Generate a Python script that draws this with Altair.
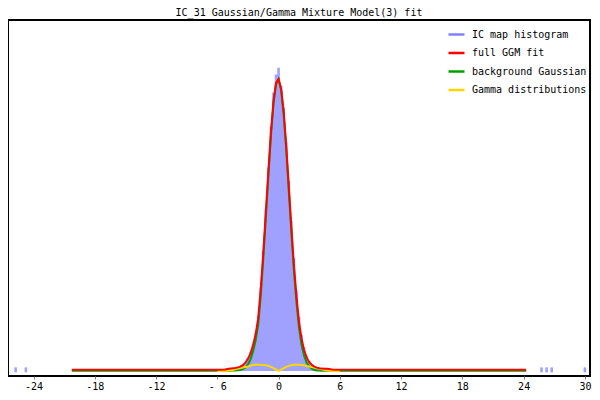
import altair as alt
import pandas as pd

# ---- data (heights in arbitrary density units) ----
hist_x = [-6.0, -5.75, -5.5, -5.25, -5.0, -4.75, -4.5, -4.25, -4.0, -3.75, -3.5, -3.25,
          -3.0, -2.75, -2.5, -2.25, -2.0, -1.75, -1.5, -1.25, -1.0, -0.75, -0.5, -0.25,
          0.0, 0.25, 0.5, 0.75, 1.0, 1.25, 1.5, 1.75, 2.0, 2.25, 2.5, 2.75, 3.0, 3.25,
          3.5, 3.75, 4.0, 4.25, 4.5, 4.75, 5.0, 5.25, 5.5, 5.75, 6.0]
hist_y = [0.6, 0.8, 0.9, 1.1, 1.3, 1.8, 2.2, 2.9, 3.6, 4.8, 6.6, 9.5,
          14, 20, 28, 40, 58, 88, 126, 171, 214, 257, 293, 312,
          319, 300, 277, 241, 200, 158, 119, 85, 57, 38, 25, 16, 10.5, 7.2,
          5.0, 3.7, 2.9, 2.4, 2.0, 1.6, 1.3, 1.1, 0.9, 0.8, 0.6]

outlier_x = [-26.75, -25.75, -24.75, 25.75, 26.25, 26.75, 30.0]
outlier_y = [1.2, 1.2, 1.2, 1.2, 1.2, 1.2, 1.2]

curve_x = [-20.25, -12.0, -6.0, -5.25, -4.75, -4.5, -4.25, -4.0, -3.75, -3.5, -3.25,
           -3.0, -2.75, -2.5, -2.25, -2.0, -1.75, -1.5, -1.25, -1.0, -0.75, -0.5, -0.25,
           0.0, 0.25, 0.5, 0.75, 1.0, 1.25, 1.5, 1.75, 2.0, 2.25, 2.5, 2.75, 3.0, 3.25,
           3.5, 3.75, 4.0, 4.25, 4.5, 4.75, 5.25, 6.0, 12.0, 24.25]
full_fit = [1.2, 1.2, 1.3, 1.6, 2.6, 2.8, 3.2, 3.8, 4.6, 6.2, 8.8,
            12.8, 18.5, 27, 38.5, 55, 86, 124, 167, 210, 251, 284, 303,
            307, 297, 273, 237, 195, 152, 112, 79, 52, 34, 22, 14, 9.5, 6.5,
            4.6, 3.5, 2.8, 2.5, 2.4, 2.3, 1.6, 1.3, 1.2, 1.2]
bg_gauss = [0.3, 0.3, 0.3, 0.3, 0.3, 0.4, 0.5, 0.7, 1.1, 2.0, 3.6,
            7.0, 12.0, 20.5, 32, 48, 79, 118, 161, 205, 247, 281, 301.5,
            307, 295.5, 270, 232.5, 189.5, 146, 105.5, 72.5, 45.5, 27.5, 16, 8.7, 4.8, 2.4,
            1.1, 0.6, 0.4, 0.3, 0.3, 0.3, 0.3, 0.3, 0.3, 0.3]

gamma_x = [-6.0, -5.25, -4.75, -4.5, -4.25, -4.0, -3.75, -3.5, -3.25, -3.0, -2.75,
           -2.5, -2.25, -2.0, -1.75, -1.5, -1.25, -1.0, -0.75, -0.5, -0.25, 0.0,
           0.25, 0.5, 0.75, 1.0, 1.25, 1.5, 1.75, 2.0, 2.25, 2.5, 2.75, 3.0, 3.25,
           3.5, 3.75, 4.0, 4.25, 4.5, 4.75, 5.25, 6.0]
gamma_y = [0.0, 0.1, 0.5, 1.0, 1.8, 2.6, 3.2, 3.6, 4.2, 4.8, 5.6,
           6.3, 6.6, 6.7, 6.6, 6.4, 6.0, 5.4, 4.4, 3.0, 1.5, 0.2,
           1.5, 3.0, 4.4, 5.4, 6.1, 6.5, 6.7, 6.7, 6.4, 6.0, 5.3, 4.7, 4.1,
           3.6, 3.0, 2.4, 1.7, 1.0, 0.5, 0.1, 0.0]

series_names = ["IC map histogram", "full GGM fit", "background Gaussian", "Gamma distributions"]
series_colors = ["#8080ff", "#ff0000", "#00a000", "#ffd700"]
tick_values = [-24, -18, -12, -6, 0, 6, 12, 18, 24, 30]

FONT = "DejaVu Sans Mono"
bin_w = 0.25

x_scale = alt.Scale(domain=[-26.5, 30.5], nice=False, zero=False)
y_scale = alt.Scale(domain=[0, 364], nice=False)
x_axis = alt.Axis(values=tick_values, grid=False, domain=False, tickSize=3,
                  tickColor="#808080", labelFont=FONT, labelFontSize=10,
                  labelColor="black", labelPadding=2, title=None,
                  labelExpr="datum.value == -6 ? '- 6' : toString(datum.value)")

hist_df = pd.DataFrame({"x": hist_x, "y": hist_y})
out_df = pd.DataFrame({"x0": [v - bin_w / 2 for v in outlier_x],
                       "x1": [v + bin_w / 2 for v in outlier_x],
                       "y": outlier_y})

hist = alt.Chart(hist_df).mark_area(interpolate="step", color="#a0a0ff", opacity=1).encode(
    x=alt.X("x:Q", scale=x_scale, axis=x_axis),
    y=alt.Y("y:Q", scale=y_scale, axis=None),
)
outl = alt.Chart(out_df).mark_bar(color="#a0a0ff").encode(
    x=alt.X("x0:Q", scale=x_scale), x2="x1:Q",
    y=alt.Y("y:Q", scale=y_scale),
)

color_scale = alt.Scale(domain=series_names, range=series_colors)
legend = alt.Legend(title=None, orient="none", legendX=439, legendY=5,
                    symbolType="stroke", symbolSize=256, symbolStrokeWidth=2.5,
                    symbolOpacity=1, labelFont=FONT, labelFontSize=10,
                    labelColor="black", rowPadding=3.5, labelOffset=6, padding=0,
                    labelLimit=200)


def curve(xs, ys, name):
    df = pd.DataFrame({"x": xs, "y": ys, "series": [name] * len(xs)})
    return alt.Chart(df).mark_line(interpolate="linear", strokeWidth=2).encode(
        x=alt.X("x:Q", scale=x_scale),
        y=alt.Y("y:Q", scale=y_scale),
        color=alt.Color("series:N", scale=color_scale, legend=legend),
    )


green = curve(curve_x, bg_gauss, "background Gaussian")
yellow = curve(gamma_x, gamma_y, "Gamma distributions")
red = curve(curve_x, full_fit, "full GGM fit")

chart = alt.layer(hist, outl, green, yellow, red).properties(
    width=582, height=356,
    autosize=alt.AutoSizeParams(type="none"),
    padding={"left": 0, "top": 12, "right": 2, "bottom": 15},
    title=alt.TitleParams("IC_31 Gaussian/Gamma Mixture Model(3) fit", font=FONT,
                          fontSize=10, fontWeight="normal", color="black",
                          anchor="middle", offset=2),
).configure_view(stroke="black", strokeWidth=2)

chart.save("out.html", embed_options={"renderer": "svg", "actions": False})
